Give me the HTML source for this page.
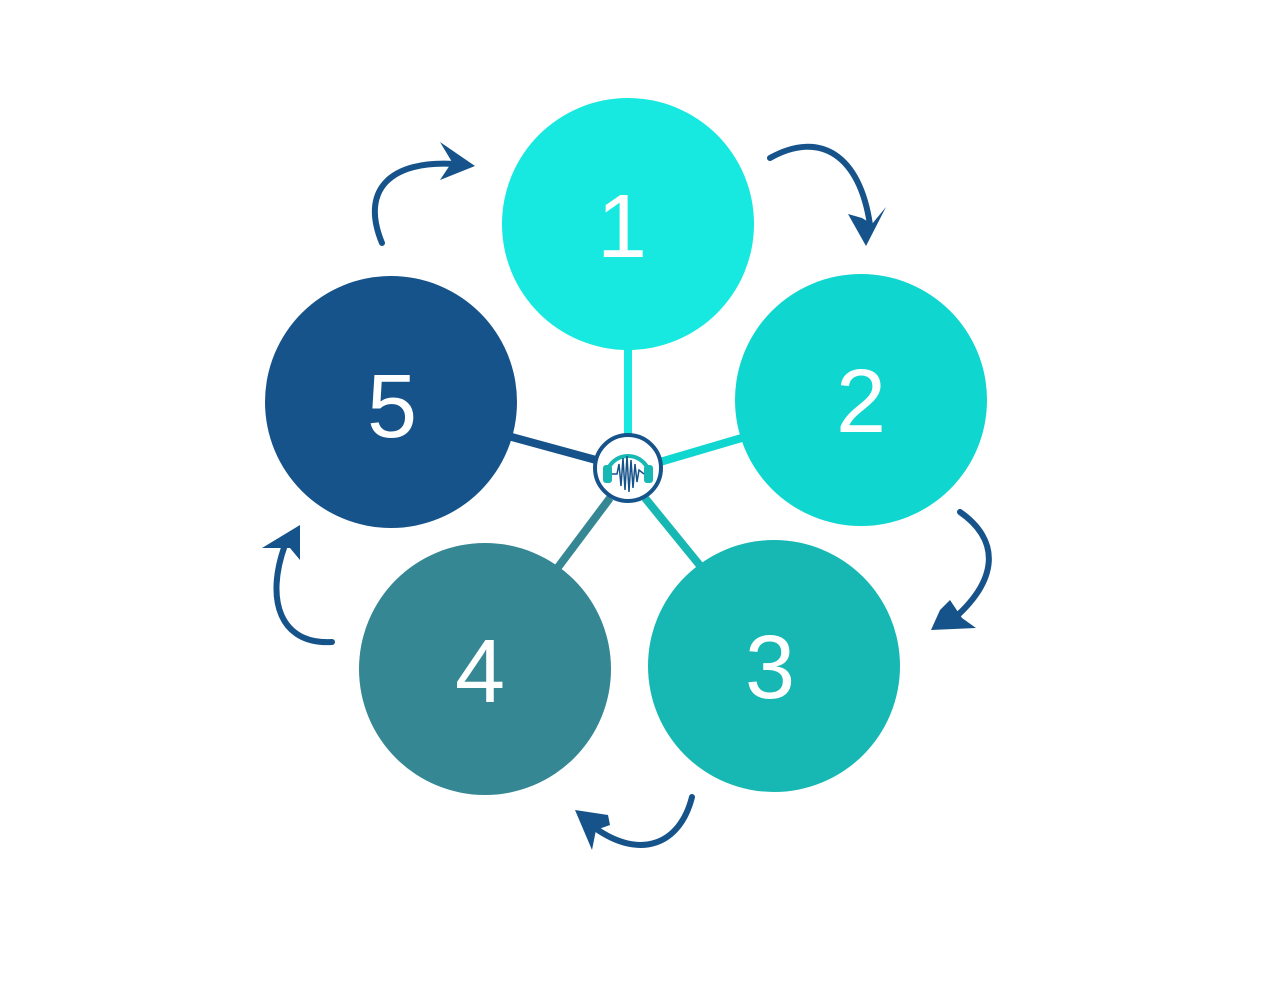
<!DOCTYPE html>
<html><head><style>body{margin:0;background:#fff}svg{display:block}</style></head><body>
<svg width="1263" height="983" viewBox="0 0 1263 983" xmlns="http://www.w3.org/2000/svg">
<g stroke-width="8">
<line x1="628" y1="345" x2="628" y2="436" stroke="#17e8e0"/>
<line x1="745" y1="437" x2="660" y2="462" stroke="#0fd6cf"/>
<line x1="645" y1="498" x2="702" y2="568" stroke="#17b8b3"/>
<line x1="610" y1="498" x2="556" y2="570" stroke="#358794"/>
<line x1="508" y1="436" x2="596" y2="460" stroke="#16538a"/>
</g>
<circle cx="628" cy="224" r="126" fill="#17e8e0"/>
<circle cx="861" cy="400" r="126" fill="#0fd6cf"/>
<circle cx="774" cy="666" r="126" fill="#17b8b3"/>
<circle cx="485" cy="669" r="126" fill="#358794"/>
<circle cx="391" cy="402" r="126" fill="#16538a"/>
<g font-family="Liberation Sans, sans-serif" font-size="90" fill="#fff" text-anchor="middle">
<text x="622" y="257">1</text>
<text x="861" y="432">2</text>
<text x="770" y="698">3</text>
<text x="480" y="702">4</text>
<text x="392" y="437">5</text>
</g>
<circle cx="628" cy="468" r="33" fill="#fff" stroke="#16538a" stroke-width="4"/>
<path d="M606 478 A22 22 0 0 1 650 478" fill="none" stroke="#17b8b3" stroke-width="4"/>
<rect x="603" y="465" width="9" height="18" rx="3" fill="#17b8b3"/>
<rect x="644" y="465" width="9" height="18" rx="3" fill="#17b8b3"/>
<path d="M612 474 L617 474 L619 464 L621 486 L623 458 L625 490 L627 456 L629 492 L631 460 L633 488 L635 464 L637 482 L639 470 L644 474" fill="none" stroke="#16538a" stroke-width="1.5"/>
<g fill="none" stroke="#16538a" stroke-width="6" stroke-linecap="round">
<path d="M770 158 C820 130 860 155 870 225"/>
<path d="M960 512 C1000 540 1000 580 950 622"/>
<path d="M692 797 C680 845 640 860 595 828"/>
<path d="M332 642 C280 645 265 600 285 545"/>
<path d="M382 243 C360 190 390 160 455 164"/>
</g>
<g fill="#16538a">
<polygon points="848,214 866,246 886,207 872,224 862,218"/>
<polygon points="931,630 976,628 962,618 950,600 940,610"/>
<polygon points="575,810 592,850 596,830 610,825 608,815"/>
<polygon points="262,548 300,525 300,560 290,548"/>
<polygon points="440,142 475,166 440,180 452,162"/>
</g>
</svg>
</body></html>
